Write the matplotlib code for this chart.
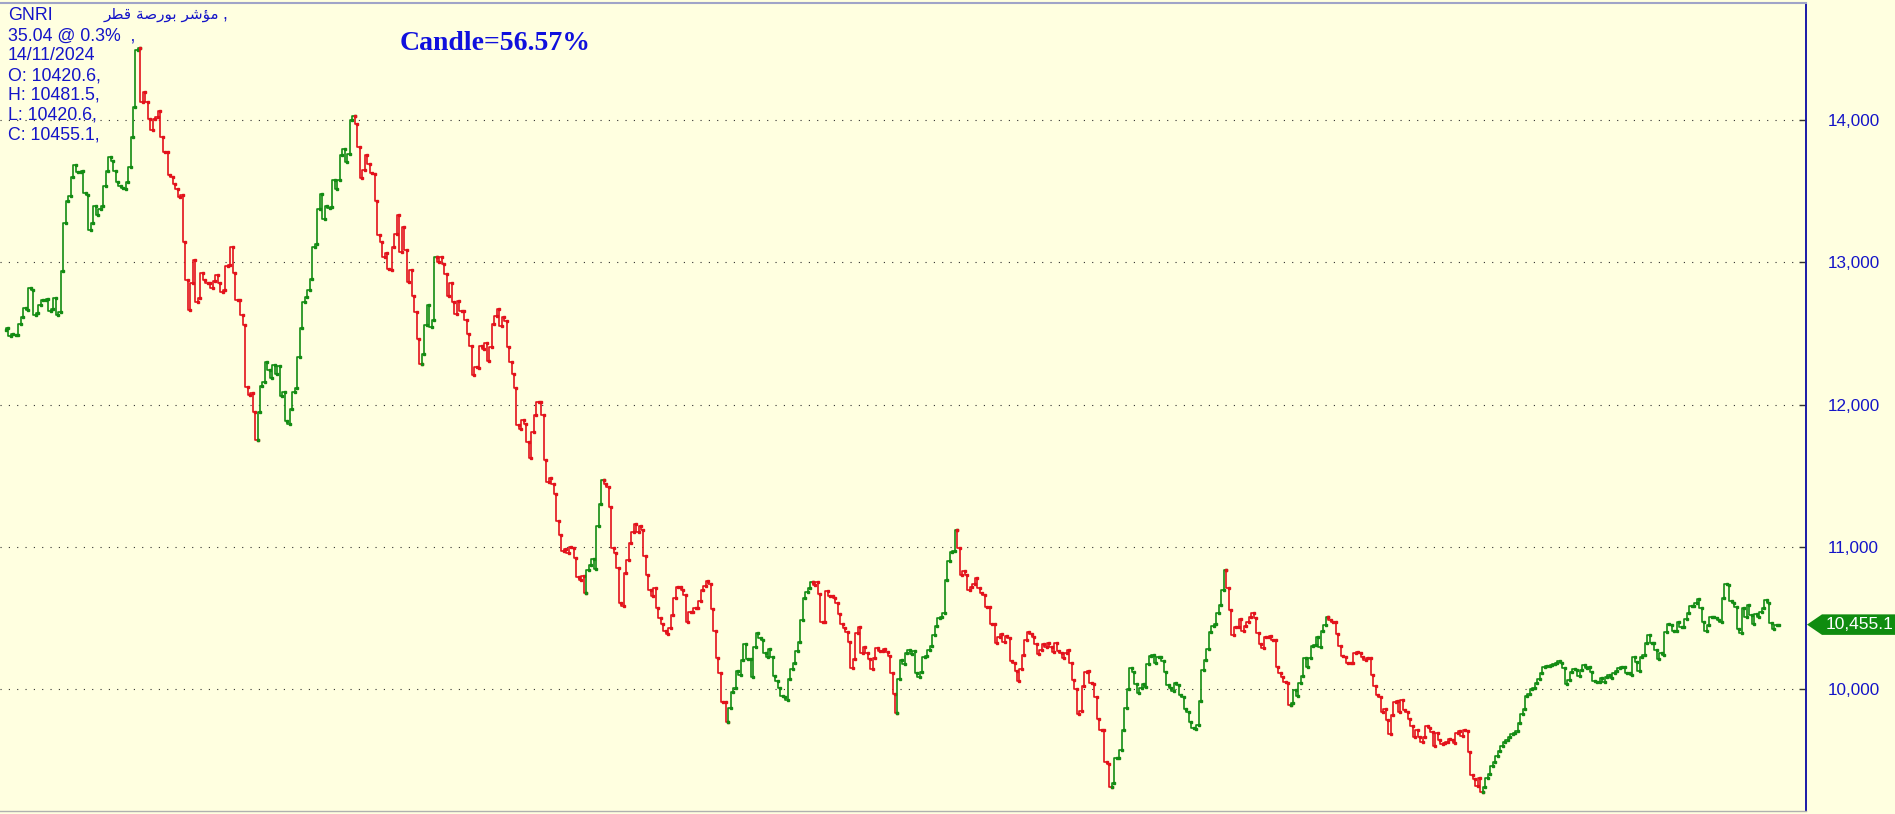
import numpy as np
import matplotlib
matplotlib.use('Agg')
import matplotlib.pyplot as plt
import matplotlib.transforms as mtransforms
from matplotlib.patches import Polygon

# ---- header texts ----
symbol = 'GNRI'
# Arabic name "مؤشر بورصة قطر", written in visual order with shaped forms
# (matplotlib has no arabic shaping / bidi)
name_ar = '\uFEAE\uFEC4\uFED7 \uFE94\uFEBB\uFEAD\uFEEE\uFE91 \uFEAE\uFEB7\uFE86\uFEE3'
info_lines = ['35.04 @ 0.3%  ,', '14/11/2024', 'O: 10420.6,', 'H: 10481.5,',
              'L: 10420.6,', 'C: 10455.1,']
candle_txt = 'Candle=56.57%'

y_ticks = [10000, 11000, 12000, 13000, 14000]
y_labels = ['10,000', '11,000', '12,000', '13,000', '14,000']
last_close = 10455.1

# ---- daily closes ----
close_p1 = [12520, 12537, 12480, 12497, 12485, 12485, 12567, 12615, 12674, 12662,
            12815, 12803, 12626, 12640, 12697, 12733, 12733, 12740, 12655, 12669,
            12745, 12631, 12650, 12938, 13273, 13429, 13464, 13594, 13684, 13630,
            13630, 13640, 13481, 13471, 13226, 13275, 13396, 13330, 13370, 13393,
            13535, 13641, 13736, 13707, 13641, 13559, 13535, 13520, 13511, 13559,
            13665, 13877, 14090, 14486, 14503,
            14125, 14196, 14125, 14007, 13929, 14007, 14019, 14061, 13877, 13771,
            13771, 13613, 13594, 13547, 13511, 13453, 13471, 13141, 12874, 12662,
            12851, 13016, 12721, 12745, 12921, 12874, 12851, 12851, 12815, 12867,
            12910, 12851, 12792, 12803, 12969]
close_p2 = [12976, 13105, 12923, 12731, 12731, 12625, 12560, 12122, 12070, 12080,
            11946, 11752, 11946, 12133, 12157, 12297, 12239, 12187, 12274, 12215,
            12267, 12063, 12087, 11883, 11864, 11970, 12087, 12117, 12333, 12539,
            12719, 12754, 12801, 12883, 13105, 13124, 13375, 13475, 13304, 13391,
            13379, 13386, 13574, 13515, 13574, 13749, 13796, 13703, 13756, 14000,
            14023, 13972, 13808, 13592, 13649, 13749, 13691, 13625, 13616, 13429,
            13187, 13140, 13035, 13063, 12953, 12946, 13105, 13199, 13328, 13070,
            13246, 13082, 12859, 12946, 12759, 12649, 12461, 12286, 12351, 12555,
            12696, 12543, 12595, 13035, 13000, 13035, 12988, 12918, 12759, 12852,
            12719, 12637]
close_p3 = [12724, 12654, 12659, 12593, 12495, 12414, 12204, 12262, 12257, 12414,
            12390, 12430, 12304, 12407, 12565, 12624, 12670, 12554, 12612, 12589,
            12407, 12297, 12211, 12117, 11854, 11830, 11893, 11865, 11737, 11627,
            11807, 11924, 12017, 12017, 11924, 11613, 11457, 11487, 11445, 11371,
            11184, 11084, 10974, 10984, 10960, 10997, 10990, 10920, 10787, 10769,
            10797, 10680, 10839, 10874, 10914, 10844, 11147, 11301, 11469, 11441,
            11422, 11282, 10991, 10960, 10850, 10610, 10587, 10815, 10909, 11030,
            11107, 11161, 11107, 11147, 11119, 10937, 10804, 10699, 10657, 10711,
            10570, 10500, 10460, 10410, 10390, 10430, 10520, 10640, 10717, 10717,
            10700, 10664]
close_p4 = [10470, 10547, 10547, 10570, 10570, 10622, 10700, 10728, 10758, 10742,
            10563, 10413, 10218, 10113, 9909, 9909, 9773, 9873, 9979, 10007,
            10132, 10101, 10207, 10317, 10214, 10214, 10089, 10296, 10399, 10359,
            10348, 10258, 10226, 10282, 10230, 10094, 10061, 10007, 9953, 9944,
            9925, 10071, 10141, 10188, 10272, 10336, 10488, 10641, 10681, 10711,
            10751, 10735, 10751, 10671, 10477, 10470, 10688, 10653, 10658, 10641,
            10610, 10531, 10460, 10430, 10406, 10336, 10148, 10211, 10394, 10441,
            10254, 10301, 10258, 10211, 10141, 10218, 10289, 10272, 10272, 10282,
            10265, 10235, 10113, 9967, 9836, 10071, 10207, 10179, 10254, 10277,
            10249, 10272, 10113, 10085]
close_p5 = [10125, 10226, 10235, 10277, 10305, 10383, 10446, 10500, 10507, 10535,
            10770, 10899, 10962, 10969, 11117, 10993, 10805, 10829, 10805, 10695,
            10718, 10742, 10782, 10711, 10676, 10664, 10578, 10578, 10460, 10460,
            10329, 10371, 10390, 10336, 10376, 10359, 10200, 10188, 10132, 10061,
            10141, 10242, 10348, 10406, 10390, 10366, 10319, 10249, 10277, 10319,
            10301, 10329, 10301, 10265, 10329, 10272, 10254, 10218, 10258, 10277,
            10183, 10066, 10000, 9831, 9850, 10024, 10125, 10132, 10047, 10038,
            9949, 9796, 9719, 9719, 9491, 9479, 9315, 9343, 9521, 9521,
            9577, 9714, 9873, 10000, 10148, 10125, 10038, 9972, 10007, 10038,
            10014, 10179]
close_p6 = [10235, 10242, 10183, 10225, 10225, 10202, 10125, 10031, 10007, 9991,
            10042, 10031, 9960, 9944, 9866, 9843, 9773, 9733, 9726, 9749,
            9920, 10136, 10207, 10282, 10406, 10446, 10460, 10535, 10594, 10700,
            10836, 10711, 10559, 10383, 10437, 10441, 10493, 10413, 10446, 10470,
            10507, 10540, 10500, 10399, 10319, 10289, 10371, 10366, 10376, 10348,
            10348, 10155, 10118, 10085, 10054, 10047, 9890, 9902, 9995, 9953,
            10047, 10094, 10218, 10155, 10218, 10305, 10312, 10371, 10301, 10413,
            10453, 10507, 10488, 10477, 10477, 10390, 10305, 10235, 10230, 10188,
            10188, 10188, 10258, 10265, 10258, 10225, 10207, 10218, 10218, 10101,
            10024, 9960, 9949]
close_p7 = [9843, 9860, 9789, 9690, 9819, 9913, 9920, 9843, 9925, 9855,
            9843, 9796, 9742, 9667, 9714, 9667, 9632, 9667, 9742, 9733,
            9702, 9601, 9695, 9643, 9615, 9624, 9632, 9655, 9643, 9624,
            9695, 9709, 9672, 9714, 9709, 9561, 9397, 9374, 9320, 9381,
            9280, 9315, 9381, 9404, 9460, 9491, 9531, 9568, 9601, 9632,
            9648, 9667, 9686, 9695, 9709, 9766, 9831, 9866, 9953, 9967,
            10000, 10007, 10042, 10071, 10118, 10155, 10164, 10164, 10171, 10178,
            10183, 10202, 10188, 10148, 10038, 10066, 10125, 10141, 10136, 10094,
            10136, 10171, 10148, 10155, 10125, 10061, 10054, 10054]
close_p8 = [10078, 10054, 10085, 10101, 10078, 10113, 10131, 10148, 10155, 10155,
            10118, 10113, 10101, 10225, 10195, 10131, 10225, 10242, 10324, 10383,
            10329, 10324, 10277, 10211, 10258, 10242, 10406, 10460, 10453, 10413,
            10413, 10470, 10437, 10441, 10493, 10540, 10587, 10587, 10610, 10634,
            10570, 10477, 10413, 10453, 10512, 10507, 10500, 10488, 10477, 10641,
            10742, 10735, 10618, 10606, 10582, 10423, 10399, 10570, 10512, 10594,
            10523, 10460, 10530, 10507, 10547, 10570, 10629, 10606, 10465, 10423,
            10453, 10455.1]

# bars where the trend colour flips (first leg is up / green)
turn_idx = [54, 101, 140, 167, 173, 233, 240, 290, 324, 358, 382, 444, 490, 516, 531, 593]

# ---- style ----
bg = '#ffffe0'
up_col = '#138c13'
dn_col = '#e3121b'
txt_blue = '#1414c8'

W, H = 1895, 814
fig = plt.figure(figsize=(W / 100, H / 100), dpi=100, facecolor=bg)
ax = fig.add_axes([0, 3 / H, 1806 / W, 808 / H], facecolor=bg)

closes = np.array(close_p1 + close_p2 + close_p3 + close_p4 +
                  close_p5 + close_p6 + close_p7 + close_p8, dtype=float)
n = len(closes)
xs = np.arange(n)

bounds = [0] + turn_idx + [n - 1]
for k in range(len(bounds) - 1):
    a, b = bounds[k], bounds[k + 1]
    col = up_col if k % 2 == 0 else dn_col
    ax.plot(xs[a:b + 1], closes[a:b + 1], drawstyle='steps-pre', color=col,
            lw=1.2, marker='s', ms=1.7, mfc=col, mec=col, zorder=3)

# x range: first bar sits ~6px in, last bar ~27px before the price axis
px_per_bar = (1779 - 6) / (n - 1)
ax.set_xlim(-6 / px_per_bar, (n - 1) + (1806 - 1779) / px_per_bar)
ax.set_ylim(9147, 14818)

# dotted horizontal grid
for v in y_ticks:
    ax.axhline(v, color='#303030', lw=0.8, ls=(0, (1, 6.5)), zorder=1)

ax.yaxis.tick_right()
ax.set_yticks(y_ticks)
ax.set_yticklabels(y_labels)
ax.tick_params(axis='y', direction='in', length=5, width=1, color='#303030',
               pad=16, labelcolor=txt_blue, labelsize=12.3)
for lab in ax.get_yticklabels():
    lab.set_fontfamily('Liberation Sans')
ax.set_xticks([])

ax.spines['left'].set_visible(False)
ax.spines['right'].set_color('#1a1aa8')
ax.spines['right'].set_linewidth(1.4)
ax.spines['top'].set_color('#a0a4c8')
ax.spines['top'].set_linewidth(1.5)
ax.spines['bottom'].set_color('#b0b0b0')
ax.spines['bottom'].set_linewidth(1.0)

# last price flag on the axis
tr = mtransforms.blended_transform_factory(fig.transFigure, ax.transData)
hh = 72
flag = Polygon([(1807 / W, last_close), (1822 / W, last_close + hh),
                (1.0, last_close + hh), (1.0, last_close - hh),
                (1822 / W, last_close - hh)],
               closed=True, transform=tr, facecolor='#0f8c0f', edgecolor='none',
               clip_on=False, zorder=5)
fig.patches.append(flag)
fig.text(1826 / W, last_close, '{:,.1f}'.format(last_close), transform=tr,
         color='white', fontsize=12.5, family='Liberation Sans',
         va='center', ha='left', zorder=6)

# header block
def fy(py):
    return 1 - py / H

fig.text(8 / W, fy(15), symbol, color=txt_blue, fontsize=12.8,
         family='Liberation Sans', va='center', ha='left')
fig.text(104 / W, fy(15), name_ar, color=txt_blue, fontsize=11,
         family='DejaVu Sans', va='center', ha='left')
fig.text(222 / W, fy(15), ',', color=txt_blue, fontsize=12.8,
         family='Liberation Sans', va='center', ha='left')
for i, line in enumerate(info_lines):
    fig.text(8 / W, fy(36 + 19.8 * i), line, color=txt_blue, fontsize=12.8,
             family='Liberation Sans', va='center', ha='left')

fig.text(495 / W, fy(43), candle_txt, color='#1010dd', fontsize=20,
         family='Liberation Serif', fontweight='bold', va='center', ha='center')

fig.savefig('out.png', dpi=100, facecolor=bg)
